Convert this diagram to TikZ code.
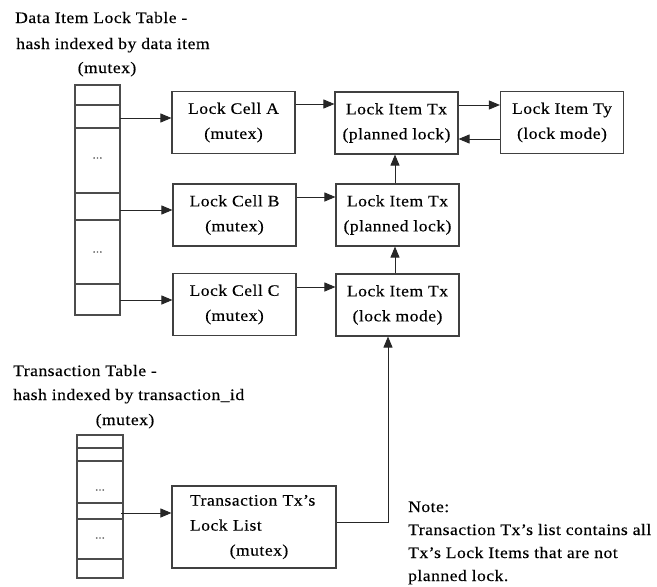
\documentclass[tikz,border=0pt]{standalone}
\usepackage{fontspec}
\setmainfont{Liberation Serif}[FakeStretch=1.1,LetterSpace=3,FakeBold=0.3]
\usetikzlibrary{arrows.meta}
\begin{document}
\begin{tikzpicture}[x=1pt,y=-1pt,
  every node/.style={font=\fontsize{16}{25}\selectfont, inner sep=0pt},
  box/.style={draw=black!75, line width=1.1pt, align=center, minimum width=123pt, minimum height=62pt},
  tbl/.style={draw=black!70, line width=1.1pt},
  arr/.style={draw=black!85, line width=0.9pt, -{Triangle[length=11pt,width=9pt]}},
  lbl/.style={anchor=base west},
  ctr/.style={anchor=base},
  dots/.style={font=\fontsize{11}{11}\selectfont, text=black!65}
]
\useasboundingbox (0,0) rectangle (657,587);

% headers
\node[lbl] (hA1) at (15,23) {Data Item Lock Table -};
\node[lbl] (hA2) at (16,49) {hash indexed by data item};
\node[ctr] (hA3) at (107,73) {(mutex)};
\node[lbl] (hT1) at (13,376) {Transaction Table -};
\node[lbl] (hT2) at (13,400) {hash indexed by transaction\_id};
\node[ctr] (hT3) at (125,425) {(mutex)};

% data item lock table
\draw[tbl] (75,85) rectangle (120,315);
\foreach \yy in {105,128,193,220,284} \draw[tbl] (75,\yy) -- (120,\yy);
\node[dots] (d1) at (97.5,158) {...};
\node[dots] (d2) at (97.5,252) {...};

% transaction table
\draw[tbl] (77,435) rectangle (123,578);
\foreach \yy in {448,461,503,519,559} \draw[tbl] (77,\yy) -- (123,\yy);
\node[dots] (d3) at (100,490) {...};
\node[dots] (d4) at (100,538) {...};

% boxes
\node[box] (cA) at (233.5,122.5) {Lock Cell A\\(mutex)};
\node[box] (tx1) at (396.5,123) {Lock Item Tx\\(planned lock)};
\node[box] (ty) at (562,122.5) {Lock Item Ty\\(lock mode)};
\node[box] (cB) at (234.5,215) {Lock Cell B\\(mutex)};
\node[box] (tx2) at (397.5,215) {Lock Item Tx\\(planned lock)};
\node[box] (cC) at (234.5,304.5) {Lock Cell C\\(mutex)};
\node[box] (tx3) at (397.5,305) {Lock Item Tx\\(lock mode)};
\node[box, minimum width=164pt, minimum height=82pt, align=left, text width=136pt, inner xsep=14pt] (tr) at (254,527)
  {\hspace*{4pt}Transaction Tx's\\\hspace*{4pt}Lock List\\\makebox[\linewidth]{\hspace*{10pt}(mutex)}};

% note
\node[lbl] (n1) at (408,512) {Note:};
\node[lbl] (n2) at (408,535) {Transaction Tx's list contains all};
\node[lbl] (n3) at (408,558) {Tx's Lock Items that are not};
\node[lbl] (n4) at (408,581) {planned lock.};

% table arrows
\coordinate (pA) at (120,118);
\coordinate (pB) at (120,210);
\coordinate (pC) at (120,300);
\coordinate (pT) at (121,513);
\draw[arr] (pA) -- (pA -| cA.west);
\draw[arr] (pB) -- (pB -| cB.west);
\draw[arr] (pC) -- (pC -| cC.west);
\draw[arr] (pT) -- (pT -| tr.west);

% box arrows
\draw[arr] ([yshift=18.5pt]cA.east) -- ([yshift=18.5pt]cA.east -| tx1.west);
\draw[arr] ([yshift=18pt]tx1.east) -- ([yshift=18pt]tx1.east -| ty.west);
\draw[arr] ([yshift=-16.5pt]ty.west) -- ([yshift=-16.5pt]ty.west -| tx1.east);
\draw[arr] ([yshift=18pt]cB.east) -- ([yshift=18pt]cB.east -| tx2.west);
\draw[arr] ([yshift=17.5pt]cC.east) -- ([yshift=17.5pt]cC.east -| tx3.west);
\draw[arr] ([xshift=-2.5pt]tx2.north) -- ([xshift=-2.5pt]tx2.north |- tx1.south);
\draw[arr] ([xshift=-2.5pt]tx3.north) -- ([xshift=-2.5pt]tx3.north |- tx2.south);
\draw[arr] ([yshift=5pt]tr.east) -| ([xshift=-9.5pt]tx3.south);
\end{tikzpicture}
\end{document}
